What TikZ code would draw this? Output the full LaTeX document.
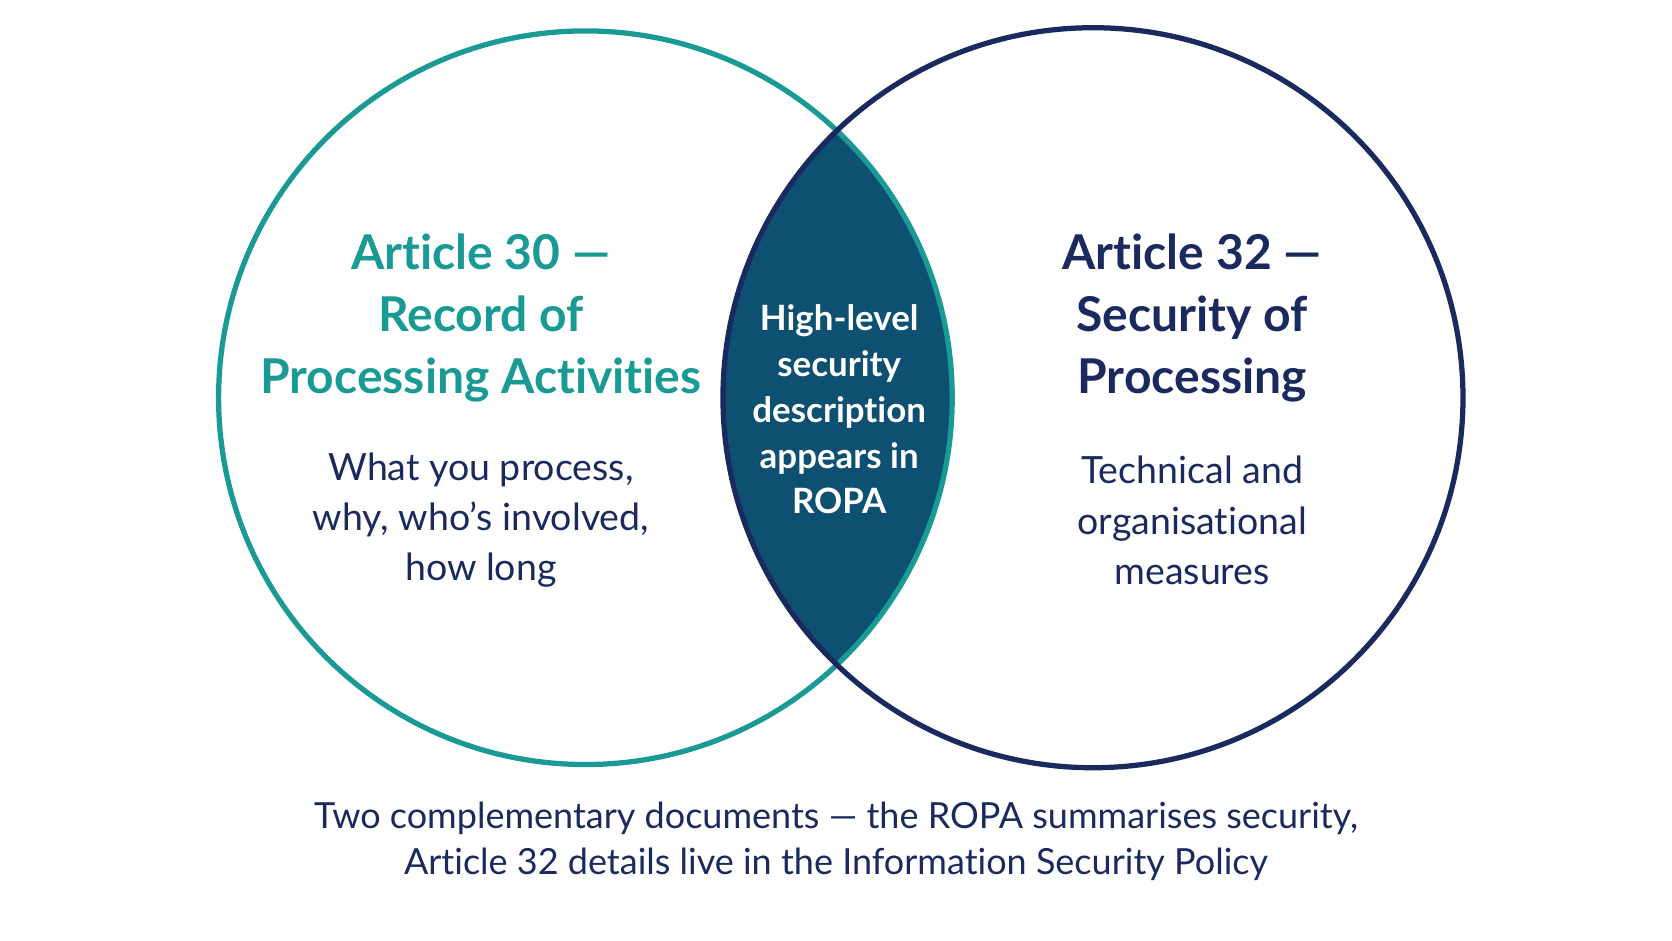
\documentclass[tikz,border=0pt]{standalone}
\usepackage{fontspec}
\setmainfont{Lato}[Ligatures=NoCommon]
\definecolor{artteal}{HTML}{1A9A94}
\definecolor{artnavy}{HTML}{1B2A5E}
\definecolor{lensblue}{HTML}{0E5072}
\tikzset{
  ring/.style={line width=1.4pt},
  title/.style={font=\fontsize{12.8}{16.5}\selectfont\bfseries, align=center},
  body/.style={font=\fontsize{10}{13.4}\selectfont, align=center, text=artnavy},
  lens/.style={font=\fontsize{9.3}{12.2}\selectfont\bfseries, align=center, text=white},
}
\begin{document}
\begin{tikzpicture}[x=0.01cm, y=0.01cm]
    \useasboundingbox (0,0) rectangle (1568,882);

    % Overlap of the two articles
    \begin{scope}
        \clip (549,509) circle (344);
        \fill[lensblue] (1025,509) circle (347);
    \end{scope}

    % Circles
    \draw[ring, artteal] (549,509) circle (344);
    \draw[ring, artnavy] (1025,509) circle (347);

    % Left side
    \node[title, text=artteal] (art30) at (451,584) {Article 30 —\\Record of\\Processing Activities};
    \node[body] (what) at (451,394) {What you process,\\why, who’s involved,\\how long};

    % Right side
    \node[title, text=artnavy] (art32) at (1118,584) {Article 32 —\\Security of\\Processing};
    \node[body] (tom) at (1118,394) {Technical and\\organisational\\measures};

    % Overlap text
    \node[lens] (ropa) at (787,498) {High-level\\security\\description\\appears in\\ROPA};

    % Caption
    \node[body, font=\fontsize{9.6}{12.2}\selectfont] (note) at (784,93)
        {Two complementary documents — the ROPA summarises security,\\Article 32 details live in the Information Security Policy};
\end{tikzpicture}
\end{document}
